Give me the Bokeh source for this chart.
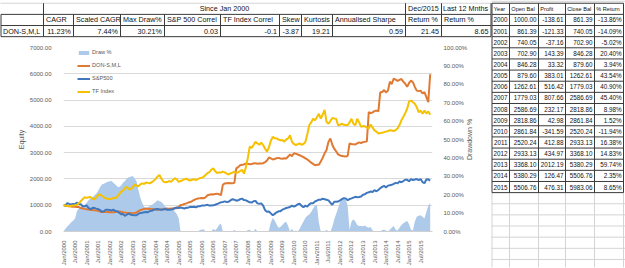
import math
from bokeh.plotting import figure
from bokeh.models import (ColumnDataSource, Range1d, LinearAxis, FixedTicker,
                          PrintfTickFormatter, NumeralTickFormatter, Legend, LegendItem)
from bokeh.core.properties import value
from bokeh.embed import file_html
from bokeh.resources import INLINE

FONT = "Liberation Sans"

# ---- summary statistics (since Jan 2000) ----
system_name = "DON-S,M,L"
summary_headers = ["CAGR", "Scaled CAGR", "Max Draw%", "S&P 500 Correl", "TF Index Correl",
                   "Skew", "Kurtosis", "Annualised Sharpe", "Return %", "Return %"]
summary_values = ["11.23%", "7.44%", "30.21%", "0.03", "-0.1", "-3.87", "19.21", "0.59",
                  "21.45", "8.65"]

# ---- yearly results ----
years = [2000, 2001, 2002, 2003, 2004, 2005, 2006, 2007, 2008, 2009, 2010, 2011, 2012,
         2013, 2014, 2015]
open_bal = [1000.00, 861.39, 740.05, 702.90, 846.28, 879.60, 1262.61, 1779.03, 2586.69,
            2818.86, 2861.84, 2520.24, 2933.13, 3368.10, 5380.29, 5506.76]
profit = [-138.61, -121.33, -37.16, 143.39, 33.32, 383.01, 516.42, 807.66, 232.17, 42.98,
          -341.59, 412.88, 434.97, 2012.19, 126.47, 476.31]
close_bal = [861.39, 740.05, 702.90, 846.28, 879.60, 1262.61, 1779.03, 2586.69, 2818.86,
             2861.84, 2520.24, 2933.13, 3368.10, 5380.29, 5506.76, 5983.06]
pct_return = ["-13.86%", "-14.09%", "-5.02%", "20.40%", "3.94%", "43.54%", "40.90%",
              "45.40%", "8.98%", "1.52%", "-11.94%", "16.38%", "14.83%", "59.74%",
              "2.35%", "8.65%"]

# ---- monthly equity curves, Jan 2000 .. Dec 2015 ----
don = [
    1000, 990, 973, 965, 955, 946, 940, 932, 928, 892, 875, 861,
    850, 835, 820, 815, 808, 802, 790, 752, 745, 740, 742, 740,
    730, 728, 735, 745, 755, 760, 750, 735, 722, 712, 705, 703,
    698, 705, 720, 775, 810, 840, 860, 868, 865, 858, 856, 846,
    838, 830, 835, 840, 852, 865, 868, 870, 874, 876, 892, 880,
    935, 1005, 1020, 1045, 1070, 1100, 1120, 1160, 1200, 1230, 1255, 1263,
    1275, 1265, 1300, 1380, 1400, 1420, 1405, 1430, 1440, 1420, 1380, 1779,
    1830, 1840, 1845, 1835, 1840, 1850, 2400, 2450, 2520, 2540, 2550, 2587,
    2575, 2560, 2570, 2590, 2600, 2580, 2590, 2585, 2600, 2640, 2700, 2819,
    2780, 2740, 2760, 2790, 2800, 2780, 2770, 2790, 2780, 2850, 2930, 2862,
    2975, 2960, 2930, 2900, 2870, 2830, 2780, 2740, 2680, 2620, 2570, 2520,
    2540, 2535, 2660, 2800, 2975, 3100, 3410, 3540, 3300, 3150, 3050, 2933,
    2900, 2870, 2860, 2850, 2880, 3350, 3330, 3320, 3310, 3350, 3390, 3368,
    3400, 3410, 3430, 4540, 4500, 4530, 4580, 4600, 4570, 5300, 5310, 5380,
    5290, 5360, 5700, 5610, 5820, 5780, 5730, 5770, 5800, 5700, 5620, 5507,
    5650, 5740, 5680, 5500, 5360, 5340, 5360, 5250, 5300, 5110, 4920, 5983,
]
spx = [
    1000, 990, 1080, 1050, 1030, 1050, 1040, 1100, 1045, 1040, 960, 965,
    990, 900, 845, 890, 900, 870, 855, 815, 750, 770, 825, 830,
    820, 800, 830, 780, 770, 715, 660, 665, 595, 645, 680, 640,
    625, 615, 620, 670, 705, 715, 730, 745, 735, 780, 785, 830,
    845, 855, 840, 825, 840, 855, 825, 830, 840, 850, 885, 915,
    890, 910, 895, 875, 905, 905, 940, 930, 940, 920, 960, 960,
    985, 990, 1000, 1015, 985, 985, 995, 1020, 1045, 1080, 1110, 1125,
    1145, 1125, 1135, 1185, 1230, 1210, 1170, 1185, 1230, 1250, 1195, 1185,
    1150, 1110, 1100, 1150, 1165, 1070, 1060, 1070, 980, 810, 750, 760,
    690, 620, 670, 730, 770, 775, 830, 860, 895, 910, 930, 985,
    950, 980, 1040, 1055, 975, 920, 985, 950, 1035, 1075, 1075, 1145,
    1170, 1210, 1210, 1245, 1230, 1210, 1185, 1095, 1020, 1130, 1130, 1140,
    1180, 1230, 1270, 1260, 1190, 1235, 1260, 1290, 1320, 1300, 1310, 1330,
    1400, 1420, 1470, 1490, 1520, 1500, 1575, 1530, 1580, 1650, 1700, 1740,
    1670, 1745, 1760, 1775, 1810, 1850, 1830, 1900, 1875, 1920, 1970, 1965,
    1910, 1990, 1960, 1975, 1995, 1955, 1995, 1880, 1835, 1975, 1985, 1935,
]
tf_index = [
    1000, 990, 975, 960, 980, 990, 1000, 1020, 1080, 1150, 1230, 1300,
    1280, 1300, 1310, 1250, 1220, 1300, 1380, 1410, 1360, 1300, 1270, 1230,
    1250, 1240, 1280, 1260, 1330, 1420, 1510, 1560, 1640, 1700, 1620, 1600,
    1680, 1780, 1750, 1720, 1790, 1830, 1810, 1860, 1850, 1830, 1880, 1930,
    2000, 2090, 2150, 2010, 1900, 1870, 1880, 1920, 1890, 1960, 2030, 1980,
    1890, 1920, 1950, 1990, 2010, 1960, 1940, 1970, 1990, 1960, 1990, 2030,
    2050, 2080, 2150, 2220, 2260, 2350, 2400, 2300, 2220, 2250, 2240, 2280,
    2250, 2200, 2170, 2210, 2240, 2280, 2230, 2250, 2300, 2350, 2200, 2450,
    2790, 3230, 3180, 3290, 3410, 3350, 3300, 3380, 3290, 3150, 3040, 3200,
    3450, 3600, 3550, 3540, 3500, 3470, 3480, 3420, 3500, 3540, 3660, 3410,
    3330, 3290, 3320, 3350, 3300, 3330, 3410, 3700, 4040, 4150, 4290, 4230,
    4350, 4480, 4290, 4450, 4630, 4170, 4100, 4200, 4320, 4300, 4290, 4040,
    4060, 4100, 4060, 4050, 4040, 4150, 4290, 4100, 4040, 4290, 4150, 3980,
    4010, 4000, 3950, 3920, 4070, 3950, 3850, 3800, 3730, 3750, 3760, 3780,
    3800, 3820, 3850, 3840, 3820, 3860, 3920, 4050, 4230, 4360, 4500, 4670,
    4950, 4980, 4920, 4860, 4730, 4540, 4600, 4480, 4600, 4490, 4570, 4440,
]
draw_pct = [
    0, 1.5, 2.7, 3.8, 5.0, 5.8, 7.0, 11.0, 12.5, 13.5, 14.0, 14.4,
    15.5, 17.0, 18.0, 18.5, 19.5, 20.5, 22.0, 24.0, 25.5, 26.0, 26.5, 27.0,
    27.3, 27.5, 26.5, 25.5, 24.5, 24.0, 25.0, 26.5, 27.5, 28.8, 29.5, 29.8,
    30.21, 29.0, 27.5, 22.5, 18.5, 15.5, 13.5, 13.0, 13.2, 13.8, 14.4, 15.2,
    16.0, 17.0, 16.5, 16.0, 15.0, 13.5, 13.0, 12.8, 12.6, 12.3, 10.8, 9.5,
    7.2, 0, 0, 0, 0, 0, 0, 0, 0, 0, 0, 0.8,
    1.0, 1.2, 0, 0, 0, 0, 1.5, 0.5, 1.8, 3.5, 4.4, 0,
    0, 0, 0, 0, 0, 1.0, 0, 0, 0, 0, 0, 0,
    0.8, 1.0, 0, 0, 1.5, 0, 0, 0, 0, 0, 0, 0.5,
    5.0, 7.4, 6.0, 4.0, 2.0, 2.5, 3.5, 4.8, 5.3, 3.0, 0, 1.5,
    0, 0.5, 0, 1.5, 3.5, 5.5, 7.5, 8.5, 9.2, 10.6, 12.5, 14.0,
    14.4, 5.0, 0, 0, 0, 1.0, 0, 0, 2.5, 6.5, 9.5, 12.5,
    16.0, 17.7, 18.0, 17.5, 14.0, 1.0, 5.5, 6.7, 5.5, 3.5, 3.0, 3.0,
    2.8, 3.2, 2.5, 2.0, 2.5, 0.5, 0, 0, 0, 0, 0.8, 1.0,
    0.5, 0, 1.0, 2.0, 3.0, 1.0, 0.5, 2.0, 3.5, 4.5, 5.2, 5.7,
    4.0, 1.0, 0.5, 5.5, 8.0, 8.5, 8.8, 8.0, 7.0, 10.6, 14.0, 15.5,
]

# category axis: one slot per month, labelled every six months
month_ticks = list(range(0, 192, 6))
month_labels = [("Jan/" if t % 12 == 0 else "Jul/") + str(2000 + t // 12) for t in month_ticks]
equity_ticks = [0, 1000, 2000, 3000, 4000, 5000, 6000, 7000]
draw_ticks = [0, 10, 20, 30, 40, 50, 60, 70, 80, 90, 100]

BORDER = "#3a3a3a"
SHEET_GRID = "#d4d4d4"
AXIS_TEXT = "#595959"

# page geometry of the plotting frame
FL, FR, FT, FB = 63, 432, 47, 232
W, H = 625, 268

p = figure(width=W, height=H, output_backend="svg", toolbar_location=None,
           x_range=Range1d(0, 192.2), y_range=Range1d(0, 7000),
           min_border_left=FL, min_border_right=W - FR, min_border_top=FT,
           min_border_bottom=H - FB)
# "px"/"py" ranges address the sheet in page pixels (y downwards) for the tables
p.extra_x_ranges = {"px": Range1d(FL, FR)}
p.extra_y_ranges = {"dd": Range1d(0, 100), "py": Range1d(FB, FT)}
p.outline_line_color = None
p.xgrid.visible = False
p.ygrid.grid_line_color = "#d9d9d9"
p.ygrid.grid_line_width = 1

SHEET = dict(x_range_name="px", y_range_name="py", level="overlay")


def rules(segs, color):
    x0, y0, x1, y1 = zip(*segs)
    p.segment(x0=list(x0), y0=list(y0), x1=list(x1), y1=list(y1),
              line_color=color, line_width=1, **SHEET)


def cells(xs, ys, texts, align, size, color="#111111", angle=0.0):
    src = ColumnDataSource(dict(x=xs, y=ys, t=texts))
    p.text(x="x", y="y", text="t", source=src, text_font=value(FONT),
           text_font_size=value(size), text_align=align, text_baseline="middle",
           text_color=color, angle=angle, **SHEET)


# ---------------- summary table (top strip) ----------------
tcols = [0.5, 43, 73, 120, 164, 220, 279, 301, 332, 405, 441, 490.5]
trows = [2.5, 13.7, 24.9, 36.1]
rules([(0, trows[0], 491, trows[0])], SHEET_GRID)
segs = [(tcols[0], y, tcols[-1], y) for y in trows[1:]]
segs += [(x, trows[1], x, trows[3]) for x in tcols]
segs += [(x, trows[0], x, trows[1]) for x in (43, 405, 441, 490.5)]
rules(segs, BORDER)
mid = [(trows[i] + trows[i + 1]) / 2 for i in range(3)]
TS = "7.2px"
cells([(43 + 405) / 2], [mid[0]], ["Since Jan 2000"], "center", TS)
cells([407.5, 442.5], [mid[0], mid[0]], ["Dec/2015", "Last 12 Mnths"], "left", TS)
cells([c + 2.5 for c in tcols[1:-1]], [mid[1]] * len(summary_headers),
      summary_headers, "left", TS)
cells([2.5], [mid[2]], [system_name], "left", TS)
cells([c - 2.5 for c in tcols[2:]], [mid[2]] * len(summary_values),
      summary_values, "right", TS)

# ---------------- yearly table (right strip) ----------------
ycols = [491.5, 509, 538, 565, 594, 623]
RH = 11.2
yrows = [2.5 + RH * k for k in range(18)]
more_rows = [2.5 + RH * k for k in range(18, 25)]
light = [(491, y, 625, y) for y in more_rows]
light += [(x, yrows[-1], x, 268) for x in ycols]
light += [(491, 0.5, 625, 0.5)]
rules(light, SHEET_GRID)
segs = [(ycols[0], y, ycols[-1], y) for y in yrows]
segs += [(x, yrows[0], x, yrows[-1]) for x in ycols]
rules(segs, BORDER)
rmid = [(yrows[i] + yrows[i + 1]) / 2 for i in range(17)]
RS = "6.3px"
cells([c + 1.8 for c in ycols[:-1]], [rmid[0]] * 5,
      ["Year", "Open Bal", "Profit", "Close Bal", "% Return"], "left", "5.6px")
body = rmid[1:]
cells([ycols[1] - 2] * 16, body, [str(y) for y in years], "right", RS)
cells([ycols[2] - 2] * 16, body, [f"{v:.2f}" for v in open_bal], "right", RS)
cells([ycols[3] - 2] * 16, body, [f"{v:.2f}" for v in profit], "right", RS)
cells([ycols[4] - 2] * 16, body, [f"{v:.2f}" for v in close_bal], "right", RS)
cells([ycols[5] - 2] * 16, body, pct_return, "right", RS)

# ---------------- equity / drawdown chart ----------------
src = ColumnDataSource(dict(m=list(range(len(don))), don=don, spx=spx, tf=tf_index,
                            dd=draw_pct))
r_dd = p.varea(x="m", y1=0, y2="dd", source=src, y_range_name="dd",
               fill_color="#aecaea", fill_alpha=1.0)
r_don = p.line("m", "don", source=src, line_color="#e07a33", line_width=2)
r_spx = p.line("m", "spx", source=src, line_color="#3f78bf", line_width=2)
r_tf = p.line("m", "tf", source=src, line_color="#f6c100", line_width=2)

xa = p.xaxis[0]
xa.ticker = FixedTicker(ticks=month_ticks)
xa.major_label_overrides = {t: lab for t, lab in zip(month_ticks, month_labels)}
xa.major_label_orientation = math.pi / 2
xa.axis_line_color = "#d0d0d0"
xa.major_tick_line_color = None
xa.minor_tick_line_color = None
xa.major_label_standoff = 3

ya = p.yaxis[0]
ya.ticker = FixedTicker(ticks=equity_ticks)
ya.formatter = NumeralTickFormatter(format="0.00")
ya.axis_line_color = None
ya.major_tick_line_color = None
ya.minor_tick_line_color = None
ya.major_label_standoff = 6
ya.axis_label = "Equity"
ya.axis_label_standoff = 2

yr = LinearAxis(y_range_name="dd", ticker=FixedTicker(ticks=draw_ticks),
                formatter=PrintfTickFormatter(format="%.2f%%"))
yr.axis_line_color = None
yr.major_tick_line_color = None
yr.minor_tick_line_color = None
yr.major_label_standoff = 5
p.add_layout(yr, "right")

for ax in (xa, ya, yr):
    ax.major_label_text_font = FONT
    ax.major_label_text_font_size = "6px"
    ax.major_label_text_color = AXIS_TEXT
    ax.axis_label_text_font = FONT
    ax.axis_label_text_font_size = "7px"
    ax.axis_label_text_font_style = "normal"
    ax.axis_label_text_color = AXIS_TEXT

# secondary axis title, reading bottom to top
cells([469], [(FT + FB) / 2], ["Drawdown %"], "center", "7px", color=AXIS_TEXT,
      angle=math.pi / 2)

legend = Legend(items=[LegendItem(label="Draw %", renderers=[r_dd]),
                       LegendItem(label="DON-S,M,L", renderers=[r_don]),
                       LegendItem(label="S&P500", renderers=[r_spx]),
                       LegendItem(label="TF Index", renderers=[r_tf])],
                location=(14, 135), orientation="vertical",
                glyph_width=13, glyph_height=5, label_height=10, label_standoff=2,
                spacing=3, padding=0, margin=0,
                label_text_font=FONT, label_text_font_size="5.6px",
                label_text_color=AXIS_TEXT,
                background_fill_alpha=0, border_line_color=None)
p.add_layout(legend)

open("out.html", "w").write(file_html(p, INLINE))
